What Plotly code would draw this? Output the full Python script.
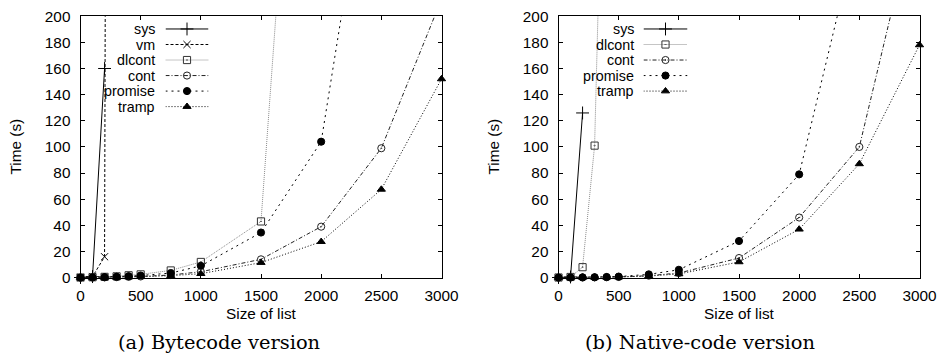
import plotly.graph_objects as go

# Geometry is given in 940x354 reference-picture pixels.  The figure is rendered
# slightly larger and positions are mapped through a measured page->picture
# correction (scale/offset), so that marks land where the reference has them.
REF_W, REF_H = 940, 354
K = 961 / 940
W, H = round(REF_W * K), round(REF_H * K)
DX = 3.5            # horizontal shift measured between layout and picture
SY, DY = 0.973, 8.8  # vertical scale / shift measured between layout and picture

# ---- data ----
sizes = [0, 100, 200, 300, 400, 500, 750, 1000, 1500, 2000, 2500, 3000]

series_names_byte = ["sys", "vm", "dlcont", "cont", "promise", "tramp"]
byte_sys = [0.1, 0.8, 160]
byte_vm = [0.1, 0.8, 16, 3500]
byte_dlcont = [0.1, 0.3, 0.6, 1.0, 1.8, 2.5, 5.5, 12, 43, 680]
byte_cont = [0.05, 0.1, 0.2, 0.4, 0.6, 0.9, 2.0, 4.5, 14, 39, 99, 213]
byte_promise = [0.05, 0.2, 0.4, 0.7, 1.1, 1.6, 3.5, 9, 34.5, 104, 390]
byte_tramp = [0.05, 0.1, 0.2, 0.3, 0.5, 0.7, 1.5, 3, 11.5, 27.5, 67.5, 152]

series_names_nat = ["sys", "dlcont", "cont", "promise", "tramp"]
nat_sys = [0.1, 0.5, 126]
nat_dlcont = [0.1, 0.5, 8, 101, 460]
nat_cont = [0.05, 0.1, 0.15, 0.2, 0.3, 0.5, 1.5, 3.5, 15, 46, 100, 293]
nat_promise = [0.05, 0.1, 0.2, 0.3, 0.5, 0.8, 2.5, 6, 28, 79, 270]
nat_tramp = [0.05, 0.1, 0.15, 0.2, 0.3, 0.4, 1.2, 2.8, 12, 37, 87, 178]

x_ticks = [0, 500, 1000, 1500, 2000, 2500, 3000]
y_ticks = [0, 20, 40, 60, 80, 100, 120, 140, 160, 180, 200]
x_title = "Size of list"
y_title = "Time (s)"
captions = ["(a) Bytecode version", "(b) Native-code version"]

Y_MAX = 200

# ---- styles ----
STYLE = {
    "sys": dict(dash="solid", lc="#000", sym="cross-thin-open", mc="#000", ms=9),
    "vm": dict(dash="3px,2px", lc="#000", sym="x-thin-open", mc="#000", ms=7),
    "dlcont": dict(dash="1px,1px", lc="#8a8a8a", sym="square-open-dot", mc="#333", ms=7),
    "cont": dict(dash="4px,2px,1px,2px", lc="#222", sym="circle-open-dot", mc="#222", ms=7),
    "promise": dict(dash="2px,4px", lc="#000", sym="circle", mc="#000", ms=7),
    "tramp": dict(dash="1px,2px", lc="#000", sym="triangle-up", mc="#000", ms=7),
}

FONT = "Liberation Sans, Arial, Helvetica, sans-serif"
FS = 15 * K
KFS = 14 * K
CFS = 19 * K


def px_x(p):
    return (p - DX) / REF_W


def px_y(p):
    return 1 - ((p - DY) / SY) / REF_H


def marker_for(name, opac):
    s = STYLE[name]
    return dict(symbol=s["sym"], size=s["ms"] * K, opacity=opac, color=s["mc"],
                line=dict(color=s["mc"], width=1))


fig = go.Figure()

panels = [
    (series_names_byte, [byte_sys, byte_vm, byte_dlcont, byte_cont, byte_promise, byte_tramp], "x", "y"),
    (series_names_nat, [nat_sys, nat_dlcont, nat_cont, nat_promise, nat_tramp], "x2", "y2"),
]

for names, vals, xa, ya in panels:
    for name, v in zip(names, vals):
        s = STYLE[name]
        xs = sizes[:len(v)]
        opac = [1 if y <= Y_MAX else 0 for y in v]
        fig.add_trace(go.Scatter(
            x=xs, y=v, mode="lines+markers", xaxis=xa, yaxis=ya,
            line=dict(color=s["lc"], width=1, dash=s["dash"]),
            marker=marker_for(name, opac), cliponaxis=False,
            showlegend=False, hoverinfo="skip"))

ROW = 15.5
KEY_TOP = 21
keys = [
    (series_names_byte, "x3", "y3", 155),
    (series_names_nat, "x4", "y4", 634),
]
annotations = []
for names, xa, ya, text_right in keys:
    for i, name in enumerate(names):
        s = STYLE[name]
        fig.add_trace(go.Scatter(
            x=[0, 0.5, 1], y=[i, i, i], mode="lines+markers", xaxis=xa, yaxis=ya,
            line=dict(color=s["lc"], width=1, dash=s["dash"]),
            marker=marker_for(name, [0, 1, 0]), cliponaxis=False,
            showlegend=False, hoverinfo="skip"))
        annotations.append(dict(
            text=name, xref="paper", yref=ya, x=px_x(text_right), y=i,
            xanchor="right", yanchor="middle", showarrow=False, borderpad=0,
            font=dict(family=FONT, size=KFS, color="#000")))

axis_common = dict(
    showline=True, linecolor="#000", linewidth=1, mirror="ticks",
    ticks="inside", ticklen=4, tickwidth=1, tickcolor="#000",
    showgrid=False, zeroline=False, ticklabeloverflow="allow",
    tickfont=dict(family=FONT, size=FS, color="#000"),
)

PL = [(80, 441), (558, 919)]
PT, PB = 16, 277

layout = dict(
    width=W, height=H, autosize=False,
    margin=dict(l=0, r=0, t=0, b=0, pad=0),
    paper_bgcolor="white", plot_bgcolor="rgba(0,0,0,0)",
    showlegend=False,
    xaxis=dict(domain=[px_x(PL[0][0]), px_x(PL[0][1])], range=[0, 3000],
               tickvals=x_ticks, anchor="y", ticklabelstandoff=4, **axis_common),
    yaxis=dict(domain=[px_y(PB), px_y(PT)], range=[0, Y_MAX],
               tickvals=y_ticks, anchor="x", ticklabelstandoff=6, **axis_common),
    xaxis2=dict(domain=[px_x(PL[1][0]), px_x(PL[1][1])], range=[0, 3000],
                tickvals=x_ticks, anchor="y2", ticklabelstandoff=4, **axis_common),
    yaxis2=dict(domain=[px_y(PB), px_y(PT)], range=[0, Y_MAX],
                tickvals=y_ticks, anchor="x2", ticklabelstandoff=6, **axis_common),
    xaxis3=dict(domain=[px_x(165), px_x(208)], range=[0, 1], anchor="y3", visible=False),
    yaxis3=dict(domain=[px_y(KEY_TOP + 6 * ROW), px_y(KEY_TOP)], range=[5.5, -0.5],
                anchor="x3", visible=False),
    xaxis4=dict(domain=[px_x(643), px_x(687)], range=[0, 1], anchor="y4", visible=False),
    yaxis4=dict(domain=[px_y(KEY_TOP + 5 * ROW), px_y(KEY_TOP)], range=[4.5, -0.5],
                anchor="x4", visible=False),
)

caption_x = [218, 699]
for (l, r), cap, cxp in zip(PL, captions, caption_x):
    cx = px_x((l + r) / 2)
    annotations.append(dict(text=x_title, xref="paper", yref="paper", x=cx, y=px_y(313),
                            xanchor="center", yanchor="middle", showarrow=False,
                            font=dict(family=FONT, size=FS, color="#000")))
    annotations.append(dict(text=y_title, xref="paper", yref="paper", x=px_x(l - 65),
                            y=px_y((PT + PB) / 2), textangle=-90,
                            xanchor="center", yanchor="middle", showarrow=False,
                            font=dict(family=FONT, size=FS, color="#000")))
    annotations.append(dict(text=cap, xref="paper", yref="paper", x=px_x(cxp), y=px_y(342),
                            xanchor="center", yanchor="middle", showarrow=False,
                            font=dict(family="DejaVu Serif, serif", size=CFS, color="#000")))

layout["annotations"] = annotations
fig.update_layout(**layout)

fig.write_html("out.html")
